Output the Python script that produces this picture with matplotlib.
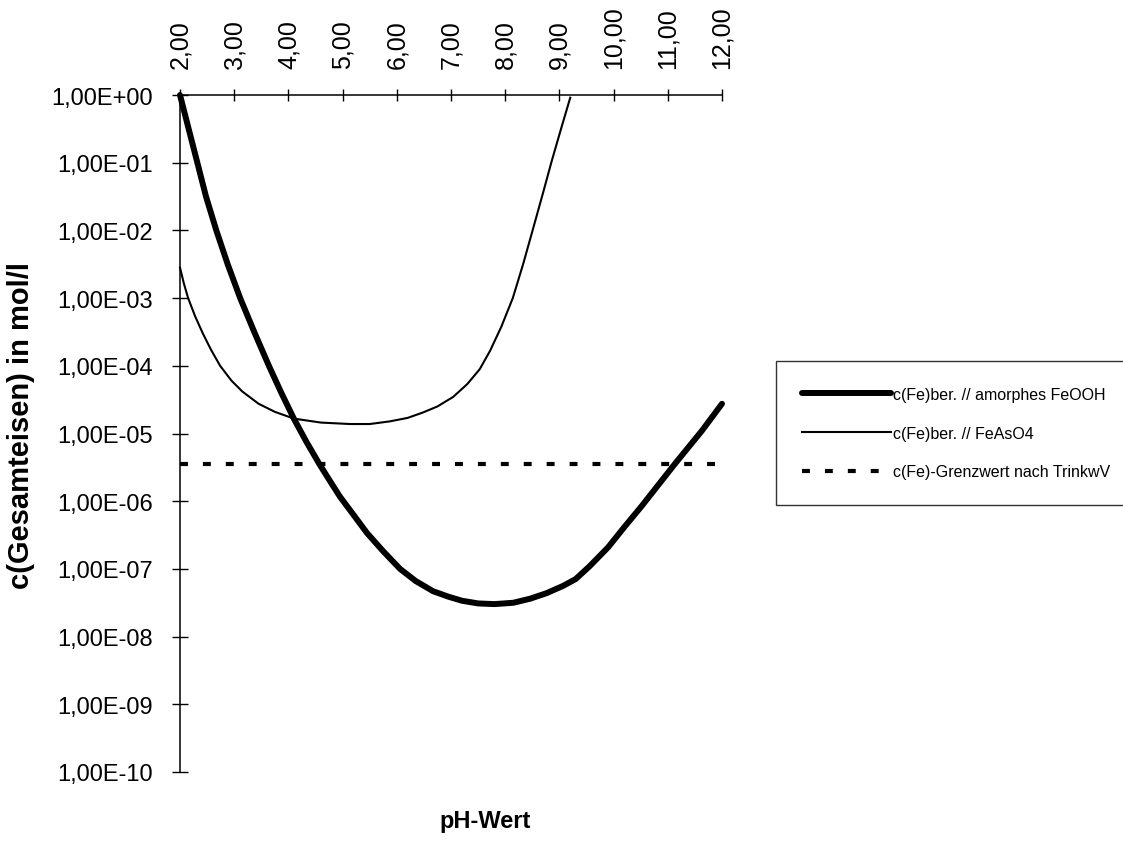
# Fe concentration vs pH (log scale), Excel-style chart
import matplotlib.pyplot as plt, numpy as np
from matplotlib.ticker import FixedLocator, FuncFormatter

plt.rcParams['font.family'] = ['Liberation Sans', 'DejaVu Sans']

# c(Fe)ber. // amorphes FeOOH
ph_feooh = [2.0, 2.15, 2.32, 2.48, 2.67, 2.88, 3.11, 3.37, 3.64, 3.87, 4.1, 4.33, 4.57, 4.75,
            4.95, 5.2, 5.45, 5.75, 6.06, 6.35, 6.67, 6.95, 7.2, 7.5, 7.8, 8.15, 8.46, 8.76,
            9.07, 9.3, 9.56, 9.9, 10.2, 10.52, 11.13, 11.63, 12.0]
c_feooh = [1.0e0, 3.39e-1, 1.0e-1, 3.16e-2, 1.0e-2, 3.16e-3, 1.0e-3, 3.16e-4, 1.0e-4,
           3.98e-5, 1.66e-5, 7.59e-6, 3.55e-6, 2.09e-6, 1.17e-6, 6.31e-7, 3.39e-7, 1.82e-7,
           1.0e-7, 6.61e-8, 4.68e-8, 3.89e-8, 3.39e-8, 3.09e-8, 3.02e-8, 3.16e-8, 3.63e-8,
           4.37e-8, 5.62e-8, 7.08e-8, 1.10e-7, 2.09e-7, 4.17e-7, 8.51e-7, 3.55e-6, 1.10e-5,
           2.75e-5]

# c(Fe)ber. // FeAsO4
ph_feaso4 = [2.0, 2.07, 2.15, 2.28, 2.42, 2.57, 2.74, 2.95, 3.15, 3.45, 3.75, 4.1, 4.6, 5.14,
             5.5, 5.87, 6.2, 6.48, 6.75, 7.04, 7.3, 7.53, 7.72, 7.93, 8.14, 8.33, 8.52, 8.7,
             8.86, 9.03, 9.2]
c_feaso4 = [2.82e-3, 1.66e-3, 1.0e-3, 5.37e-4, 3.02e-4, 1.74e-4, 1.0e-4, 6.03e-5, 4.17e-5,
            2.75e-5, 2.09e-5, 1.66e-5, 1.45e-5, 1.38e-5, 1.38e-5, 1.51e-5, 1.70e-5, 2.04e-5,
            2.51e-5, 3.47e-5, 5.37e-5, 8.91e-5, 1.66e-4, 3.80e-4, 1.0e-3, 3.16e-3, 1.10e-2,
            3.63e-2, 1.07e-1, 3.16e-1, 9.12e-1]

# c(Fe)-Grenzwert nach TrinkwV
ph_limit = [2.0, 12.0]
c_limit = [3.58e-6, 3.58e-6]

x_ticks = [2, 3, 4, 5, 6, 7, 8, 9, 10, 11, 12]
y_exps = list(range(0, -11, -1))

fig = plt.figure(figsize=(11.23, 8.45), dpi=100)
ax = fig.add_axes([180 / 1123, 72 / 845, 542 / 1123, 677 / 845])

ax.plot(ph_feooh, c_feooh, color="black", lw=4.3, solid_capstyle="round",
        solid_joinstyle="round", label="c(Fe)ber. // amorphes FeOOH", clip_on=False)
ax.plot(ph_feaso4, c_feaso4, color="black", lw=1.5, solid_joinstyle="round",
        label="c(Fe)ber. // FeAsO4", clip_on=False)
ax.plot(ph_limit, c_limit, color="black", lw=3.0, linestyle=(0, (1.9, 3.6)),
        label="c(Fe)-Grenzwert nach TrinkwV")

ax.set_yscale("log")
ax.set_xlim(2, 12)
ax.set_ylim(1e-10, 1e0)

# axis look: x axis on top, only left/top spines
for s in ["right", "bottom"]:
    ax.spines[s].set_visible(False)
for s in ["left", "top"]:
    ax.spines[s].set_linewidth(1.1)

ax.xaxis.set_ticks_position("top")
ax.xaxis.set_major_locator(FixedLocator(x_ticks))
ax.xaxis.set_major_formatter(FuncFormatter(lambda v, p: f"{v:.2f}".replace(".", ",")))
ax.tick_params(axis="x", which="major", direction="inout", length=9, width=1,
               labelsize=18, labelrotation=90, pad=15)

ax.yaxis.set_major_locator(FixedLocator([10.0 ** e for e in y_exps]))
ax.yaxis.set_minor_locator(FixedLocator([]))
ax.yaxis.set_major_formatter(FuncFormatter(lambda v, p: f"1,00E{int(round(np.log10(v))):+03d}"))
ax.tick_params(axis="y", which="major", direction="inout", length=11, width=1,
               labelsize=17, pad=14)

ax.set_ylabel("c(Gesamteisen) in mol/l", fontsize=21, fontweight="bold")
ax.yaxis.set_label_coords(-0.268, 0.513)
fig.text(485 / 1123, 1 - 822 / 845, "pH-Wert", fontsize=17, fontweight="bold",
         ha="center", va="center")

leg = fig.legend(loc="upper left", bbox_to_anchor=(776 / 1123, 1 - 362 / 845, 0.35, 0.0),
                 mode="expand", borderaxespad=0, fontsize=11.5, handlelength=5.6,
                 handletextpad=0.15, labelspacing=1.5, borderpad=1.6,
                 fancybox=False, frameon=True, edgecolor="black")
leg.get_frame().set_linewidth(1.0)

plt.savefig("out.png", dpi=100)
